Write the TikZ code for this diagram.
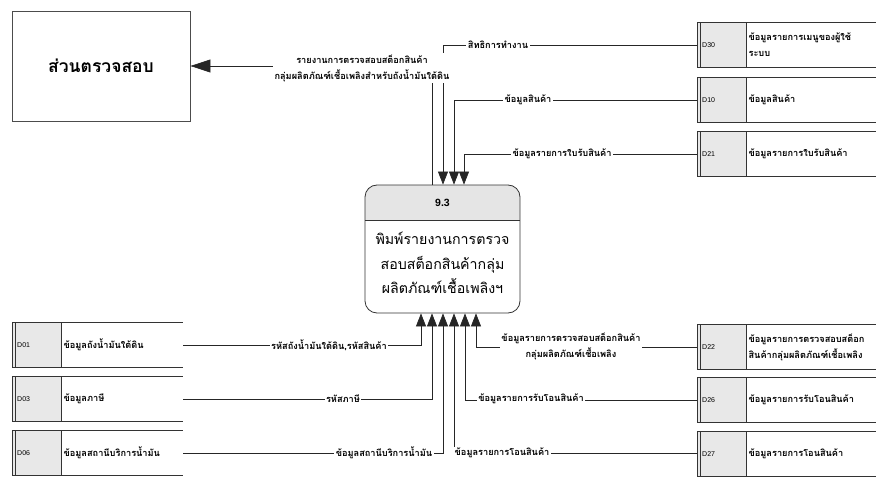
\documentclass[tikz,border=0pt]{standalone}
\usepackage{fontspec}
\newfontfamily\thaifont[Script=Thai]{Loma}
\newfontfamily\latfont{Liberation Sans}
\usetikzlibrary{arrows.meta}
\newcommand{\dstore}[6]{% #1 name, #2 x left, #3 length, #4 y centre, #5 id, #6 text
  \node[idcell, anchor=west] (#1) at (#2,#4) {};
  \draw[sline] (#1.north west) -- ++(#3,0);
  \draw[sline] (#1.south west) -- ++(#3,0);
  \draw[sline] (#1.north east) -- (#1.south east);
  \draw[sline] (#1.north west) -- (#1.south west);
  \draw[sline] ([xshift=3pt]#1.north west) -- ([xshift=3pt]#1.south west);
  \node[idtxt] (#1i) at ([xshift=5pt]#1.west) {#5};
  \node[stxt] (#1t) at ([xshift=1pt]#1.east) {#6};
}
\begin{document}
\begin{tikzpicture}[x=1pt,y=-1pt,
  sline/.style={draw=black!80, line width=0.7pt},
  idcell/.style={fill=black!9, draw=none, minimum width=49pt, minimum height=44pt, inner sep=0pt},
  idtxt/.style={anchor=west, inner sep=0pt, font=\latfont\fontsize{7}{8}\selectfont},
  stxt/.style={anchor=west, align=left, inner sep=1pt, font=\thaifont\bfseries\fontsize{9.2}{16}\selectfont},
  flow/.style={draw=black!85, line width=0.7pt},
  inarr/.style={-{Triangle[length=13pt,width=10pt]}},
  outarr/.style={-{Triangle[length=20pt,width=13pt]}},
  lbl/.style={fill=white, inner sep=1.5pt, align=center, font=\thaifont\bfseries\fontsize{9.2}{16}\selectfont},
  proctxt/.style={align=center, font=\thaifont\fontsize{14.2}{24.5}\selectfont}
]
\useasboundingbox (0,0) rectangle (876,481);

% external entity
\node[draw=black!70, line width=0.9pt, minimum width=178pt, minimum height=110pt,
      font=\thaifont\bfseries\fontsize{17.5}{20}\selectfont] (audit) at (101,66) {ส่วนตรวจสอบ};

% process
\begin{scope}
  \clip[rounded corners=12pt] (365,185) rectangle (520,313);
  \fill[black!10] (365,185) rectangle (520,220);
\end{scope}
\node[draw=black!80, line width=0.8pt, rounded corners=12pt, minimum width=155pt, minimum height=128pt, inner sep=0pt] (proc) at (442.5,249) {};
\draw[sline] (365,220) -- (520,220);
\node[font=\latfont\bfseries\fontsize{10.5}{12}\selectfont] (pid) at (442.5,203) {9.3};
\node[proctxt] (ptxt) at (442.5,263) {พิมพ์รายงานการตรวจ\\สอบสต็อกสินค้ากลุ่ม\\ผลิตภัณฑ์เชื้อเพลิงฯ};

% data stores, right
\dstore{r1}{697}{179}{45}{D30}{ข้อมูลรายการเมนูของผู้ใช้\\ระบบ}
\dstore{r2}{697}{179}{100}{D10}{ข้อมูลสินค้า}
\dstore{r3}{697}{179}{154}{D21}{ข้อมูลรายการใบรับสินค้า}
\dstore{r4}{697}{179}{347}{D22}{ข้อมูลรายการตรวจสอบสต็อก\\สินค้ากลุ่มผลิตภัณฑ์เชื้อเพลิง}
\dstore{r5}{697}{179}{400}{D26}{ข้อมูลรายการรับโอนสินค้า}
\dstore{r6}{697}{179}{454}{D27}{ข้อมูลรายการโอนสินค้า}
% data stores, left
\dstore{l1}{12}{171}{345}{D01}{ข้อมูลถังน้ำมันใต้ดิน}
\dstore{l2}{12}{171}{399}{D03}{ข้อมูลภาษี}
\dstore{l3}{12}{171}{453}{D06}{ข้อมูลสถานีบริการน้ำมัน}
\coordinate (l1e) at (183,345);
\coordinate (l2e) at (183,399);
\coordinate (l3e) at (183,453);

% output flow
\draw[flow, outarr] ([xshift=-10.5pt]proc.north) |- (audit.east);
% top flows in
\draw[flow, inarr] (r1.west) -| ([xshift=0.5pt]proc.north);
\draw[flow, inarr] (r2.west) -| ([xshift=11.5pt]proc.north);
\draw[flow, inarr] (r3.west) -| ([xshift=21.5pt]proc.north);
% bottom flows in
\draw[flow, inarr] (l1e) -| ([xshift=-21.5pt]proc.south);
\draw[flow, inarr] (l2e) -| ([xshift=-10.5pt]proc.south);
\draw[flow, inarr] (l3e) -| ([xshift=0.5pt]proc.south);
\draw[flow, inarr] (r6.west |- l3e) -| ([xshift=11.5pt]proc.south);
\draw[flow, inarr] (r5.west) -| ([xshift=22.5pt]proc.south);
\draw[flow, inarr] (r4.west) -| ([xshift=33.5pt]proc.south);

% labels
\node[lbl] (lout) at (362,68) {รายงานการตรวจสอบสต็อกสินค้า\\กลุ่มผลิตภัณฑ์เชื้อเพลิงสำหรับถังน้ำมันใต้ดิน};
\node[lbl] (la) at (498,45) {สิทธิการทำงาน};
\node[lbl] (lb) at (528,100) {ข้อมูลสินค้า};
\node[lbl] (lc) at (562,154) {ข้อมูลรายการใบรับสินค้า};
\node[lbl] (ld) at (329,345) {รหัสถังน้ำมันใต้ดิน,รหัสสินค้า};
\node[lbl] (le) at (343,399) {รหัสภาษี};
\node[lbl] (lf) at (384,453) {ข้อมูลสถานีบริการน้ำมัน};
\node[lbl] (lg) at (502,453) {ข้อมูลรายการโอนสินค้า};
\node[lbl] (lh) at (531,399) {ข้อมูลรายการรับโอนสินค้า};
\node[lbl] (li) at (571,346) {ข้อมูลรายการตรวจสอบสต็อกสินค้า\\กลุ่มผลิตภัณฑ์เชื้อเพลิง};
\end{tikzpicture}
\end{document}
